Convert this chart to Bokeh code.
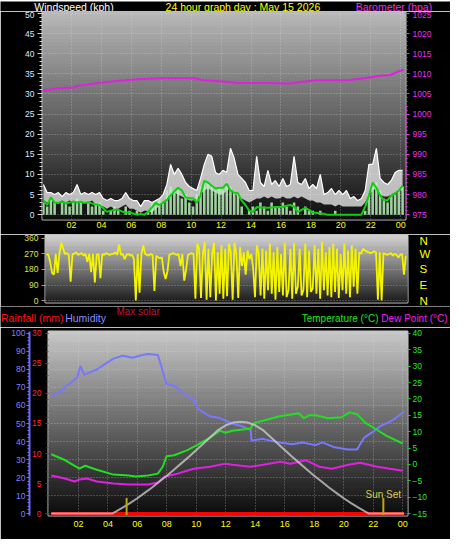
import numpy as np
from bokeh.plotting import figure
from bokeh.models import Range1d, LinearAxis, FixedTicker, Label
from bokeh.layouts import column
from bokeh.embed import file_html
from bokeh.resources import INLINE
from bokeh.core.properties import value

FONT = "Liberation Sans"
W = 450
SX = 450 / 466
SY = 539 / 555

# ---------------- data ----------------
chart_title = "24 hour graph day : May 15 2026"
hour_ticks = [2, 4, 6, 8, 10, 12, 14, 16, 18, 20, 22, 24]
hour_labels = ["02", "04", "06", "08", "10", "12", "14", "16", "18", "20", "22", "00"]

wind_ticks = [0, 5, 10, 15, 20, 25, 30, 35, 40, 45, 50]
baro_ticks = [975, 980, 985, 990, 995, 1000, 1005, 1010, 1015, 1020, 1025]
dir_ticks = [0, 90, 180, 270, 360]
dir_labels = ["N", "E", "S", "W", "N"]
hum_ticks = [0, 10, 20, 30, 40, 50, 60, 70, 80, 90, 100]
rain_ticks = [0, 5, 10, 15, 20, 25, 30]
temp_ticks = [-15, -10, -5, 0, 5, 10, 15, 20, 25, 30, 35, 40]

# barometer (hpa)
baro_hours = [0.06, 1.16, 2.13, 2.45, 3.74, 5.03, 6.65, 7.94, 10.19, 10.84, 12.13,
              13.1, 15.1, 16.5, 18.32, 20.45, 21.55, 22.65, 23.29, 23.94, 24.19]
baro_hpa = [1005.8, 1006.5, 1006.6, 1007.0, 1007.7, 1008.2, 1008.7, 1008.9, 1008.9, 1008.4, 1008.1,
            1007.7, 1007.7, 1007.6, 1008.4, 1008.4, 1008.9, 1009.5, 1009.7, 1010.7, 1011.0]

# wind (kph), one sample every quarter hour
wind_hours = list(np.arange(0.125, 24.2, 0.25))
gust_high = [
    7.5, 5.5, 5.5, 5.0,
    5.5, 4.5, 5.5, 5.0,
    5.5, 7.5, 5.0, 5.5,
    5.0, 5.5, 5.0, 5.5,
    4.0, 3.5, 4.0, 3.5,
    3.5, 4.0, 5.5, 4.0,
    3.5, 3.5, 2.0, 3.5,
    3.5, 3.0, 3.5, 4.0,
    5.0, 7.5, 12.5, 10.0,
    11.5, 10.0, 8.0, 7.0,
    6.5, 6.0, 9.0, 12.5,
    15.0, 14.5, 10.5, 10.0,
    11.0, 10.5, 16.5, 14.0,
    10.0, 9.0, 8.0, 6.0,
    6.0, 14.5, 8.0, 7.0,
    11.0, 7.5, 8.5, 7.0,
    9.0, 7.0, 7.5, 14.5,
    8.0, 7.5, 9.0, 6.5,
    7.5, 6.5, 10.0, 5.0,
    5.5, 6.5, 5.0, 6.0,
    5.0, 6.0, 4.0, 4.5,
    3.5, 4.0, 6.0, 12.5,
    12.5, 16.5, 9.0, 8.0,
    7.5, 8.5, 10.5, 11.0,
    11.0]
gust_low = [
    3.5, 3.0, 3.5, 3.0,
    3.0, 3.5, 3.0, 3.5,
    3.0, 3.5, 3.0, 3.0,
    3.0, 3.5, 2.5, 2.0,
    2.0, 1.5, 2.0, 1.5,
    1.5, 2.0, 2.5, 1.5,
    1.5, 1.0, 0.5, 1.0,
    1.0, 0.5, 1.5, 2.0,
    3.0, 4.0, 5.0, 5.5,
    5.0, 4.5, 4.0, 3.5,
    3.5, 4.0, 5.0, 6.0,
    6.5, 6.0, 5.5, 5.0,
    5.0, 6.0, 6.5, 5.5,
    4.5, 4.0, 3.5, 3.0,
    3.5, 4.0, 4.0, 4.5,
    4.0, 4.5, 4.0, 4.0,
    4.5, 4.0, 4.0, 4.5,
    4.0, 4.5, 4.0, 3.5,
    3.5, 3.0, 3.0, 2.5,
    2.5, 2.5, 2.0, 2.5,
    2.0, 2.0, 2.0, 2.0,
    2.0, 2.0, 3.0, 5.0,
    6.0, 6.5, 5.0, 4.5,
    4.5, 5.0, 5.5, 6.0,
    6.0]
wind_speed = [
    3, 2, 4, 3,
    0, 3, 3, 2,
    3, 4, 3, 0,
    3, 2, 3, 3,
    1, 0, 1, 2,
    1, 0, 2, 1,
    0, 1, 0, 0,
    1, 3, 2, 4,
    3, 6, 7, 6,
    6, 4, 5, 3,
    2, 5, 7, 8,
    8, 7, 6, 7,
    6, 8, 7, 6,
    5, 2, 0, 1,
    2, 1, 3, 2,
    1, 3, 2, 2,
    3, 2, 1, 3,
    2, 0, 2, 1,
    1, 0, 1, 0,
    0, 0, 1, 0,
    0, 0, 0, 0,
    0, 0, 1, 5,
    7, 8, 6, 4,
    3, 5, 5, 6,
    7]
wind_avg = [
    3.6, 2.4, 4.3, 3.0,
    2.9, 3.2, 2.8, 3.0,
    3.3, 3.0, 3.2, 2.9,
    3.1, 2.8, 2.6, 2.4,
    1.6, 0.7, 1.0, 1.2,
    1.2, 0.8, 0.5, 0.6,
    0.3, 0.0, 0.2, 0.0,
    0.7, 1.8, 2.9, 2.4,
    3.0, 3.6, 4.8, 5.8,
    6.7, 6.0, 4.3, 4.1,
    4.1, 2.9, 4.8, 8.4,
    8.0, 7.2, 6.5, 6.7,
    6.7, 7.7, 6.0, 5.5,
    5.3, 3.5, 2.4, 1.0,
    0.7, 1.9, 1.8, 1.7,
    1.7, 1.8, 1.9, 1.9,
    1.9, 2.2, 2.4, 2.0,
    0.7, 1.2, 1.7, 1.2,
    0.5, 0.5, 0.3, 0.2,
    0.0, 0.0, 0.0, 0.0,
    0.0, 0.0, 0.0, 0.0,
    0.0, 0.0, 2.0, 4.8,
    8.0, 6.7, 4.8, 3.6,
    3.6, 4.8, 5.3, 6.0,
    7.2]

# wind direction (degrees), one sample every eighth of an hour
dir_hours = list(np.arange(0.0625, 24.25, 0.125))
wind_dir = [
    270, 265, 225, 160, 150, 270, 160, 275,
    335, 300, 270, 275, 265, 110, 270, 270,
    280, 265, 270, 275, 260, 270, 225, 270,
    165, 270, 105, 265, 270, 130, 270, 265,
    275, 270, 265, 270, 270, 280, 265, 325,
    265, 270, 240, 265, 270, 260, 265, 240,
    0, 270, 45, 270, 320, 270, 265, 260,
    270, 265, 55, 260, 250, 245, 250, 165,
    125, 170, 265, 270, 275, 270, 265, 270,
    200, 270, 115, 180, 265, 270, 275, 270,
    10, 330, 300, 15, 270, 340, 5, 300,
    20, 270, 335, 0, 280, 40, 320, 10,
    300, 25, 330, 280, 5, 335, 270, 15,
    310, 200, 280, 150, 290, 240, 270, 190,
    20, 320, 270, 30, 300, 10, 290, 60,
    330, 40, 280, 5, 310, 50, 270, 30,
    335, 20, 60, 300, 10, 330, 40, 80,
    300, 30, 60, 330, 20, 290, 50, 70,
    320, 40, 300, 10, 340, 60, 280, 30,
    310, 20, 330, 50, 300, 15, 270, 60,
    330, 40, 290, 20, 320, 80, 300, 40,
    280, 270, 300, 290, 285, 280, 275, 280,
    285, 280, 5, 280, 0, 275, 270, 265,
    270, 275, 260, 270, 265, 250, 265, 270,
    150, 260]

# humidity (%)
hum_hours = [0.16, 0.7, 1.3, 1.94, 2.13, 2.4, 2.8, 3.25, 3.8, 4.37, 5.0, 5.68, 6.34, 6.73, 7.39,
             7.72, 7.98, 8.5, 9.17, 9.82, 10.14, 10.93, 11.59, 12.44, 13.1, 13.69, 13.75, 14.5,
             15.0, 15.66, 16.5, 17.2, 18.09, 18.55, 19.3, 20.26, 20.91, 21.37, 22.0, 22.49, 23.0,
             23.54, 24.1]
hum_pct = [65, 67.5, 71.5, 75.7, 82, 77, 78.5, 80, 83, 86, 87.6, 86.5, 88, 88.6, 88,
           79, 72, 71, 66.5, 63, 58, 54, 53, 50, 48.5, 46.5, 40.5, 41.5,
           40.5, 39.5, 38.5, 39.5, 38, 39.5, 37, 35.6, 35.6, 42, 45.5, 48.6, 50.5,
           53, 56.7]

# temperature (C)
temp_hours = [0.16, 1.08, 2.07, 2.46, 3.25, 4.37, 5.42, 5.88, 6.73, 7.39, 7.72, 7.98, 8.5, 9.36,
              10.01, 10.93, 11.59, 11.98, 12.44, 13.69, 13.88, 15.66, 16.97, 17.3, 17.63, 18.09,
              18.94, 19.86, 20.39, 20.91, 21.5, 22.03, 22.88, 24.0]
temp_c = [3.1, 1.35, -1.3, -0.4, -1.6, -3.1, -3.4, -3.7, -3.4, -2.8, -0.7, 2.5, 2.8, 4.3,
          5.8, 8.2, 10.3, 9.7, 10.3, 11.0, 12.6, 14.7, 15.6, 14.1, 15.0, 15.0,
          14.1, 14.4, 15.9, 15.3, 12.6, 11.2, 8.8, 6.4]

# dew point (C)
dew_hours = [0.16, 1.08, 1.74, 2.07, 2.59, 3.25, 4.37, 5.42, 6.73, 7.39, 7.85, 8.5, 9.82, 10.93,
             11.59, 11.98, 12.44, 13.69, 15.72, 16.38, 17.43, 18.35, 19.2, 20.32, 21.1, 22.29, 24.0]
dew_c = [-3.4, -4.3, -5.2, -4.6, -4.3, -5.2, -5.8, -6.1, -6.1, -5.5, -3.7, -3.1, -1.3, -0.7,
         -0.1, 0.2, -0.1, -0.7, 0.8, 0.2, 1.3, -0.7, -1.3, -0.1, 0.5, -0.7, -1.9]

# max solar (W/m2)
solar_hours = [0.16, 4.3, 4.5, 5.0, 5.5, 6.0, 6.5, 7.0, 7.5, 8.0, 8.5, 9.0, 9.5, 10.0, 10.5, 11.0,
               11.5, 12.0, 12.5, 13.0, 13.5, 14.0, 14.5, 15.0, 15.5, 16.0, 16.5, 17.0, 17.5, 18.0,
               18.5, 19.0, 19.5, 20.0, 20.5, 21.0, 21.5, 21.7, 24.1]
solar_wm2 = [0, 0, 20, 65, 115, 170, 230, 290, 355, 420, 490, 560, 630, 705, 780, 855,
             930, 980, 1010, 1020, 1010, 980, 930, 855, 780, 705, 630, 560, 490, 420,
             355, 290, 230, 170, 115, 65, 20, 0, 0]

# rainfall (mm)
rain_hours = [0.16, 24.1]
rain_mm = [0.0, 0.0]

# sunrise / sunset
sun_hours = [5.27, 22.69]
sunset_label = "Sun Set"


# ---------------- helpers ----------------
def make_fig(h, xr, yr, bl, br, bt, bb, xloc="below", yloc="left"):
    p = figure(width=W, height=h, x_range=xr, y_range=yr, output_backend="svg",
               toolbar_location=None, x_axis_location=xloc, y_axis_location=yloc,
               min_border_left=bl, min_border_right=br, min_border_top=bt, min_border_bottom=bb,
               background_fill_color="black", border_fill_color="black",
               outline_line_color="#c8c8c8", outline_line_width=2, title=None,
               frame_align=False)
    p.xgrid.grid_line_color = "#e0e0e0"
    p.ygrid.grid_line_color = "#e0e0e0"
    p.grid.grid_line_alpha = 0.45
    p.grid.grid_line_dash = "1 2"
    return p


def strip(h):
    s = figure(width=W, height=h, x_range=Range1d(0, W), y_range=Range1d(h, 0),
               output_backend="svg", toolbar_location=None,
               x_axis_location=None, y_axis_location=None,
               min_border_left=0, min_border_right=0, min_border_top=0, min_border_bottom=0,
               background_fill_color="black", border_fill_color="black",
               outline_line_color=None, title=None, frame_align=False)
    s.grid.visible = False
    return s


def put(s, text, x, y, color, align="left", size="10.5px"):
    s.text(x=[x], y=[y], text=[text], text_color=color, text_align=align,
           text_baseline="middle", text_font=value(FONT), text_font_size=value(size))


def gradient(p, xr, yr, g_top, g_bot, n=60):
    edges = np.linspace(yr.start, yr.end, n + 1)
    cols = []
    for i in range(n):
        t = (i + 0.5) / n
        g = int(round(g_bot + (g_top - g_bot) * t))
        cols.append("#%02x%02x%02x" % (g, g, g))
    p.quad(left=xr.start, right=xr.end, bottom=edges[:-1], top=edges[1:],
           fill_color=cols, line_color=cols, line_width=1, level="image")


def style_axis(ax, color, tick_color, size="8.5px", tick_out=4, minor_out=2, standoff=3):
    ax.major_label_text_color = color
    ax.major_label_text_font = FONT
    ax.major_label_text_font_size = size
    ax.axis_line_color = None
    ax.major_tick_line_color = tick_color
    ax.minor_tick_line_color = tick_color
    ax.major_tick_in = 0
    ax.minor_tick_in = 0
    ax.major_tick_out = tick_out
    ax.minor_tick_out = minor_out
    ax.major_label_standoff = standoff


hour_over = {t: l for t, l in zip(hour_ticks, hour_labels)}

# ---------------- top title strip ----------------
S1 = 11
s_top = strip(S1)
put(s_top, "Windspeed (kph)", 35 * SX, 5, "#ffffff")
put(s_top, chart_title, 251 * SX, 5, "#ffff00", align="center")
put(s_top, "Barometer (hpa)", 447 * SX, 5, "#e830e8", align="right")

# ---------------- panel 1 : wind + barometer ----------------
H1 = 223
xr1 = Range1d(0.065, 24.32)
yr1 = Range1d(-1.2, 50.48)
p1 = make_fig(H1, xr1, yr1, round(43 * SX), round(47 * SX), 0, 15)
p1.extra_y_ranges = {"baro": Range1d(973.8, 1025.48)}
gradient(p1, xr1, yr1, 185, 14)
p1.xgrid.ticker = FixedTicker(ticks=hour_ticks)
p1.ygrid.ticker = FixedTicker(ticks=wind_ticks)

p1.xaxis.ticker = FixedTicker(ticks=hour_ticks)
p1.xaxis.major_label_overrides = hour_over
style_axis(p1.xaxis[0], "#ffff00", None, size="9px", tick_out=0, minor_out=0, standoff=2)

p1.yaxis.ticker = FixedTicker(ticks=wind_ticks, minor_ticks=list(range(0, 51)))
style_axis(p1.yaxis[0], "#dde6ff", "#d0d0d0", tick_out=5, minor_out=3, standoff=3)

baro_axis = LinearAxis(y_range_name="baro",
                       ticker=FixedTicker(ticks=baro_ticks, minor_ticks=list(range(975, 1026))))
style_axis(baro_axis, "#e830e8", "#e030e0", tick_out=4, minor_out=2, standoff=3)
p1.add_layout(baro_axis, "right")

p1.varea(x=wind_hours, y1=gust_low, y2=gust_high, fill_color="white", fill_alpha=0.7)
p1.line(wind_hours, gust_high, line_color="white", line_width=1.2)
p1.vbar(x=wind_hours, top=wind_speed, bottom=0, width=0.17,
        fill_color="#b8f0b8", fill_alpha=0.85, line_color=None)
p1.line(wind_hours, wind_avg, line_color="#10d010", line_width=2)
p1.line(baro_hours, baro_hpa, y_range_name="baro", line_color="#e020e0", line_width=2)

# ---------------- panel 2 : wind direction ----------------
H2 = 72
xr2 = Range1d(0.0, 24.3)
yr2 = Range1d(-11.25, 376.9)
p2 = make_fig(H2, xr2, yr2, round(47 * SX), round(45 * SX), 1, 4, xloc=None)
gradient(p2, xr2, yr2, 210, 26)
p2.xgrid.visible = False
p2.ygrid.ticker = FixedTicker(ticks=dir_ticks)
p2.yaxis.ticker = FixedTicker(ticks=dir_ticks)
style_axis(p2.yaxis[0], "#e0e040", "#a0a080", tick_out=4, minor_out=0, standoff=3)
compass = LinearAxis(ticker=FixedTicker(ticks=dir_ticks),
                     major_label_overrides={t: l for t, l in zip(dir_ticks, dir_labels)})
style_axis(compass, "#ffff00", None, size="11.5px", tick_out=0, minor_out=0, standoff=12)
p2.add_layout(compass, "right")
p2.line(dir_hours, wind_dir, line_color="#f4f400", line_width=1.8)

# ---------------- legend strip ----------------
H3 = 212
S2 = 539 - S1 - H1 - H2 - H3
s_mid = strip(S2)
put(s_mid, "Rainfall (mm)", 0.5, 11.8, "#ff1010")
put(s_mid, "Humidity", 67 * SX, 11.8, "#8c8cff")
put(s_mid, "Max solar", 120 * SX, 4.9, "#c8103c", size="10px")
put(s_mid, "Temperature (\u00b0C)", 378, 11.8, "#20e020", align="right", size="10px")
put(s_mid, "Dew Point (\u00b0C)", 463 * SX, 11.8, "#f020f0", align="right", size="10px")

# ---------------- panel 3 : temperature / humidity / rain / solar ----------------
xr3 = Range1d(-0.03, 24.33)
yr3 = Range1d(-1.08, 101.08)
p3 = make_fig(H3, xr3, yr3, round(50 * SX), round(45 * SX), 4, 24, yloc=None)
p3.extra_y_ranges = {"rain": Range1d(-0.324, 30.32),
                     "temp": Range1d(-15.59, 40.59),
                     "solar": Range1d(-21.6, 2021.6)}
gradient(p3, xr3, yr3, 200, 10)
p3.xgrid.ticker = FixedTicker(ticks=hour_ticks)
p3.ygrid.ticker = FixedTicker(ticks=hum_ticks)
p3.xaxis.ticker = FixedTicker(ticks=hour_ticks)
p3.xaxis.major_label_overrides = hour_over
style_axis(p3.xaxis[0], "#ffff00", None, size="9px", tick_out=0, minor_out=0, standoff=5)

rain_axis = LinearAxis(y_range_name="rain",
                       ticker=FixedTicker(ticks=rain_ticks, minor_ticks=list(range(0, 31))))
style_axis(rain_axis, "#ff2020", "#e01010", tick_out=3, minor_out=2, standoff=4)
p3.add_layout(rain_axis, "left")

hum_axis = LinearAxis(ticker=FixedTicker(ticks=hum_ticks, minor_ticks=list(range(0, 101, 2))))
style_axis(hum_axis, "#8080ff", "#7070ff", tick_out=3, minor_out=2, standoff=1)
hum_axis.axis_line_color = "#6a6aff"
hum_axis.axis_line_width = 2
p3.add_layout(hum_axis, "left")

temp_axis = LinearAxis(y_range_name="temp", ticker=FixedTicker(ticks=temp_ticks))
style_axis(temp_axis, "#30e030", "#20d020", tick_out=3, minor_out=0, standoff=2)
p3.add_layout(temp_axis, "right")

p3.line(rain_hours, rain_mm, y_range_name="rain", line_color="#ff0000", line_width=3)
p3.line(hum_hours, hum_pct, line_color="#7878ff", line_width=2)
p3.line(temp_hours, temp_c, y_range_name="temp", line_color="#20e020", line_width=2)
p3.line(dew_hours, dew_c, y_range_name="temp", line_color="#e020e0", line_width=2)
p3.line(solar_hours, solar_wm2, y_range_name="solar", line_color="#d0d0d0",
        line_width=2, line_alpha=0.75)
p3.segment(x0=sun_hours, y0=[-1.0, -1.0], x1=sun_hours, y1=[8.6, 8.6],
           line_color="#b8a818", line_width=2)
p3.add_layout(Label(x=sun_hours[1], y=10.8, text=sunset_label, text_color="#d8c848",
                    text_font=FONT, text_font_size="10px", text_align="center",
                    text_baseline="middle"))

layout = column(s_top, p1, p2, s_mid, p3, spacing=0)
open("out.html", "w").write(file_html(layout, INLINE))
